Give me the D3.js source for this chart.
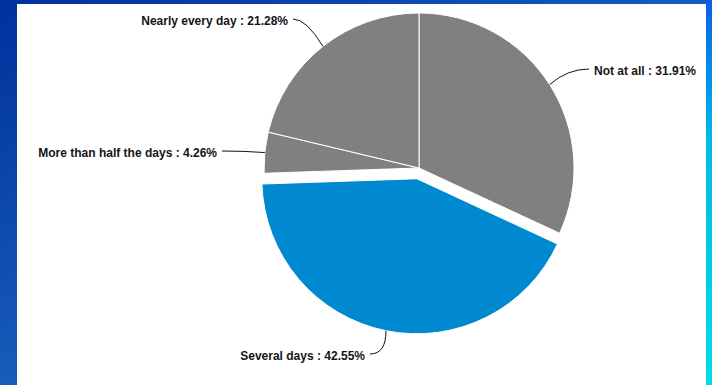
<!DOCTYPE html>
<html>
<head>
<meta charset="utf-8">
<script src="https://cdn.jsdelivr.net/npm/d3@7"></script>
<style>
  html, body { margin: 0; padding: 0; }
  body { width: 712px; height: 385px; overflow: hidden; }
  svg { display: block; }
</style>
</head>
<body>
<svg id="chart" width="712" height="385"></svg>
<script>
// Responses, in drawing order (clockwise from 12 o'clock)
const categories = ["Not at all", "Several days", "More than half the days", "Nearly every day"];
const percentages = [31.91, 42.55, 4.26, 21.28];
const sliceColors = ["#808080", "#0089d0", "#808080", "#808080"];
const pulledOut = [false, true, false, false];

// Where each label sits and which way its text runs
const labelAnchors = [
  { x: 594, y: 71, anchor: "start", bend: 0.55 },
  { x: 365, y: 356, anchor: "end", bend: 1.0 },
  { x: 217, y: 153, anchor: "end", bend: 0.5 },
  { x: 288, y: 21, anchor: "end", bend: 0.45 }
];

const W = 712, H = 385;
const cx = 419, cy = 168, radius = 155, pullDistance = 11;

const svg = d3.select("#chart");
const defs = svg.append("defs");

// slide background
const bg = defs.append("linearGradient")
  .attr("id", "slideBg").attr("x1", 0).attr("y1", 0).attr("x2", 1).attr("y2", 1);
bg.append("stop").attr("offset", "0%").attr("stop-color", "#00309c");
bg.append("stop").attr("offset", "45%").attr("stop-color", "#1558b8");
bg.append("stop").attr("offset", "80%").attr("stop-color", "#1a7cc0");
bg.append("stop").attr("offset", "100%").attr("stop-color", "#00dced");
svg.append("rect").attr("width", W).attr("height", H).attr("fill", "url(#slideBg)");

const edge = defs.append("linearGradient")
  .attr("id", "rightEdge").attr("x1", 0).attr("y1", 0).attr("x2", 0).attr("y2", 1);
edge.append("stop").attr("offset", "0%").attr("stop-color", "#0a5ee0");
edge.append("stop").attr("offset", "35%").attr("stop-color", "#00b8ea");
edge.append("stop").attr("offset", "100%").attr("stop-color", "#00dbe9");
svg.append("rect").attr("x", 706).attr("y", 0).attr("width", 6).attr("height", H).attr("fill", "url(#rightEdge)");

// white chart panel
svg.append("rect").attr("x", 17).attr("y", 4).attr("width", 689).attr("height", H - 4).attr("fill", "#ffffff");

const data = categories.map((c, i) => ({
  category: c, value: percentages[i], color: sliceColors[i], pulled: pulledOut[i], label: labelAnchors[i]
}));

const pie = d3.pie().value(d => d.value).sort(null);
const arc = d3.arc().innerRadius(0).outerRadius(radius);
const arcs = pie(data);

const offsetOf = a => {
  if (!a.data.pulled) return [0, 0];
  const mid = (a.startAngle + a.endAngle) / 2;
  return [Math.sin(mid) * pullDistance, -Math.cos(mid) * pullDistance];
};

const g = svg.append("g").attr("transform", `translate(${cx},${cy})`);

g.selectAll("path.slice")
  .data(arcs)
  .join("path")
  .attr("class", "slice")
  .attr("d", arc)
  .attr("transform", a => `translate(${offsetOf(a)})`)
  .attr("fill", a => a.data.color)
  .attr("stroke", "#ffffff")
  .attr("stroke-width", 1);

// leader lines from the slice rim to the label
g.selectAll("path.leader")
  .data(arcs)
  .join("path")
  .attr("class", "leader")
  .attr("fill", "none")
  .attr("stroke", "#111111")
  .attr("stroke-width", 1)
  .attr("d", a => {
    const mid = (a.startAngle + a.endAngle) / 2;
    const [ox, oy] = offsetOf(a);
    const px = Math.sin(mid) * radius + ox;
    const py = -Math.cos(mid) * radius + oy;
    const L = a.data.label;
    const gap = L.anchor === "end" ? 5 : -5;
    const lx = L.x - cx + gap;
    const ly = L.y - cy - 2;
    const qx = lx + (px - lx) * L.bend;
    return `M${px},${py}Q${qx},${ly} ${lx},${ly}`;
  });

svg.selectAll("text.label")
  .data(arcs)
  .join("text")
  .attr("class", "label")
  .attr("x", a => a.data.label.x)
  .attr("y", a => a.data.label.y)
  .attr("dy", "0.35em")
  .attr("text-anchor", a => a.data.label.anchor)
  .attr("font-family", "'Liberation Sans', Arial, sans-serif")
  .attr("font-weight", "bold")
  .attr("font-size", "12px")
  .attr("fill", "#151515")
  .text(a => `${a.data.category} : ${a.data.value.toFixed(2)}%`);
</script>
</body>
</html>
